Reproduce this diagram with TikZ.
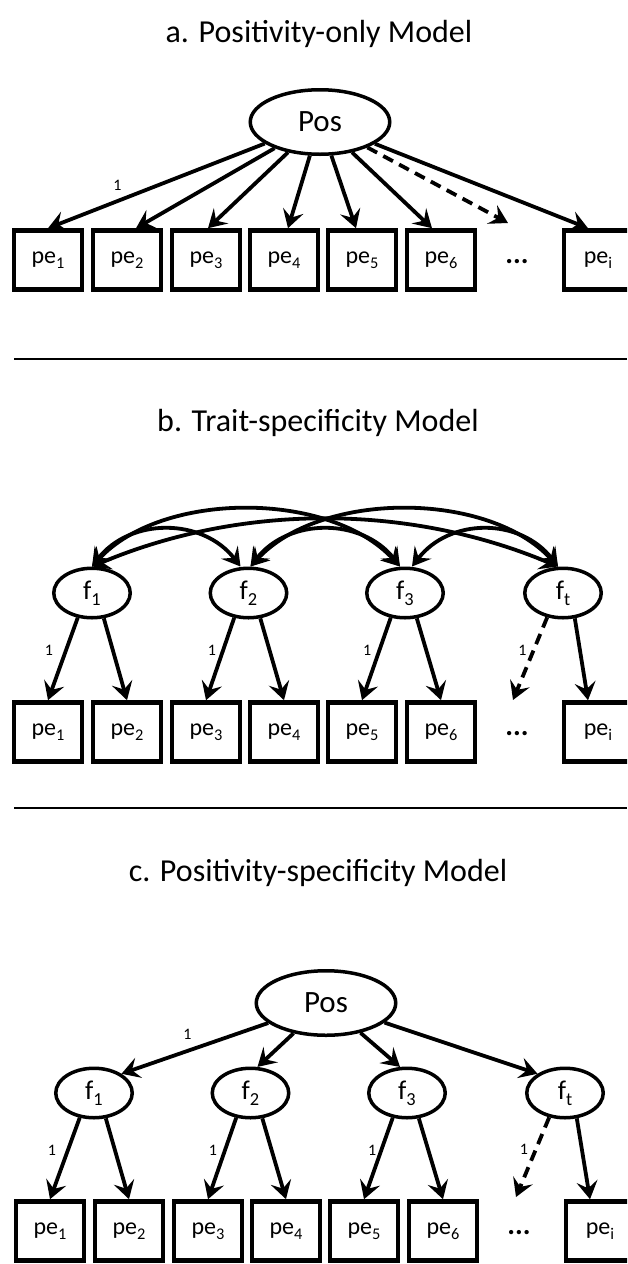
\documentclass[tikz,border=0pt]{standalone}
\usepackage{fontspec}
\setmainfont{Carlito}
\usepackage{graphicx}
\usetikzlibrary{arrows.meta,calc,shapes.geometric}

% lowered, reduced index after a variable name
\newcommand\dn[1]{\raisebox{-0.22em}{\scalebox{0.68}{#1}}}

\begin{document}
\begin{tikzpicture}[x=1pt,y=-1pt,
  obs/.style={draw, line width=4.6pt, minimum width=68pt, minimum height=59pt, inner sep=0pt,
    font=\fontsize{24}{28}\selectfont},
  lat/.style={draw, ellipse, line width=3.5pt, minimum width=76.5pt, minimum height=49.5pt, inner sep=0pt,
    font=\fontsize{27}{32}\selectfont},
  big/.style={lat, minimum width=139.5pt, minimum height=64.5pt, font=\fontsize{31}{36}\selectfont},
  ttl/.style={anchor=base, inner sep=0pt, font=\fontsize{32}{38}\selectfont},
  one/.style={inner sep=0pt, font=\fontsize{16}{19}\selectfont},
  dotsn/.style={anchor=base, inner sep=0pt, font=\bfseries\fontsize{29}{34}\selectfont},
  tip/.style={Stealth[length=18pt,width=21pt,inset=7pt]},
  ld/.style={line width=3.8pt, -{Stealth[length=18pt,width=21pt,inset=7pt]}},
  lddash/.style={ld, dash pattern=on 11pt off 7pt},
  cv/.style={line width=3.8pt, {Stealth[length=18pt,width=21pt,inset=7pt]}-{Stealth[length=18pt,width=21pt,inset=7pt]}},
  sep/.style={line width=2pt}
]
\path[use as bounding box] (0,0) rectangle (627,1264);
\clip (0,0) rectangle (627,1264);

% ---------------- a. Positivity-only model ----------------
\node[ttl] (ta) at (319,42) {a. Positivity-only Model};
\node[big] (posA) at (320,122) {Pos};
\foreach \i/\x in {1/48,2/127,3/206,4/284,5/362,6/441}
  \node[obs] (a\i) at (\x,260) {pe\dn{\i}};
\node[obs] (ai) at (598,260) {pe\dn{i}};
\coordinate (xa) at (517,0);
\node[dotsn] (adots) at (a1.base -| xa) {...};
\coordinate (aend) at (508,223);

\draw[ld] (posA) -- node[one, pos=0.68, yshift=16pt] (la) {1} (a1.north);
\draw[ld] (posA) -- ($(a2.north)+(9,0)$);
\draw[ld] (posA) -- ($(a3.north)+(2,0)$);
\draw[ld] (posA) -- ($(a4.north)+(4,0)$);
\draw[ld] (posA) -- ($(a5.north)+(-6,0)$);
\draw[ld] (posA) -- ($(a6.north)+(-9,0)$);
\draw[lddash] (posA) -- (aend);
\draw[ld] (posA) -- ($(ai.north)+(-10,0)$);

\draw[sep] (14,359) -- (627,359);

% ---------------- b. Trait-specificity model ----------------
\node[ttl] (tb) at (318,431) {b. Trait-specificity Model};
\node[lat] (fb1) at (92,593) {f\dn{1}};
\node[lat] (fb2) at (248.5,593) {f\dn{2}};
\node[lat] (fb3) at (405,593) {f\dn{3}};
\node[lat] (fbt) at (563,593) {f\dn{t}};
\foreach \i/\x in {1/48,2/127,3/206,4/284,5/362,6/441}
  \node[obs] (b\i) at (\x,732) {pe\dn{\i}};
\node[obs] (bi) at (598,732) {pe\dn{i}};
\coordinate (xb) at (517,0);
\node[dotsn] (bdots) at (b1.base -| xb) {...};
\coordinate (bend) at (513,700);

% factor covariances
\draw[cv] (fb1.north) .. controls +(38,-49) and +(-38,-49) .. ($(fb2.north)+(-8,0)$);
\draw[cv] ($(fb2.north)+(2,0)$) .. controls +(38,-49) and +(-38,-49) .. ($(fb3.north)+(-5,0)$);
\draw[cv] ($(fb3.north)+(7,0)$) .. controls +(38,-49) and +(-38,-49) .. ($(fbt.north)+(-5,0)$);
\draw[cv] (fb1.north) .. controls +(70,-76) and +(-70,-76) .. ($(fb3.north)+(-5,0)$);
\draw[cv] ($(fb2.north)+(2,0)$) .. controls +(70,-76) and +(-70,-76) .. ($(fbt.north)+(-5,0)$);
\draw[cv] (fb1.north) .. controls +(150,-63) and +(-150,-63) .. ($(fbt.north)+(-5,0)$);

% loadings
\draw[ld] (fb1.240) -- node[one, pos=0.4, xshift=-17pt] (lb1) {1} (b1.north);
\draw[ld] (fb1.295) -- (b2.north);
\draw[ld] (fb2.240) -- node[one, pos=0.4, xshift=-11pt] (lb2) {1} (b3.north);
\draw[ld] (fb2.295) -- (b4.north);
\draw[ld] (fb3.240) -- node[one, pos=0.4, xshift=-12pt] (lb3) {1} (b5.north);
\draw[ld] (fb3.295) -- (b6.north);
\draw[lddash] (fbt.237) -- node[one, pos=0.4, xshift=-11pt] (lbt) {1} (bend);
\draw[ld] (fbt.295) -- ($(bi.north)+(-10,0)$);

\draw[sep] (14,808) -- (627,808);

% ---------------- c. Positivity-specificity model ----------------
\node[ttl] (tc) at (318,881) {c. Positivity-specificity Model};
\node[big] (posC) at (326,1003) {Pos};
\node[lat] (fc1) at (94,1093) {f\dn{1}};
\node[lat] (fc2) at (250.5,1093) {f\dn{2}};
\node[lat] (fc3) at (407,1093) {f\dn{3}};
\node[lat] (fct) at (565,1093) {f\dn{t}};
\foreach \i/\x in {1/50,2/129,3/208,4/286,5/364,6/443}
  \node[obs] (c\i) at (\x,1231) {pe\dn{\i}};
\node[obs] (ci) at (600,1231) {pe\dn{i}};
\coordinate (xc) at (519,0);
\node[dotsn] (cdots) at (c1.base -| xc) {...};
\coordinate (cend) at (516,1197);

\draw[ld] (posC) -- node[one, pos=0.55, yshift=17pt] (lc) {1} (fc1.35);
\draw[ld] (posC) -- (fc2.75);
\draw[ld] (posC) -- (fc3.105);
\draw[ld] (posC) -- (fct.145);

\draw[ld] (fc1.240) -- node[one, pos=0.4, xshift=-16pt] (lc1) {1} (c1.north);
\draw[ld] (fc1.295) -- (c2.north);
\draw[ld] (fc2.240) -- node[one, pos=0.4, xshift=-12pt] (lc2) {1} (c3.north);
\draw[ld] (fc2.295) -- (c4.north);
\draw[ld] (fc3.240) -- node[one, pos=0.4, xshift=-9pt] (lc3) {1} (c5.north);
\draw[ld] (fc3.295) -- (c6.north);
\draw[lddash] (fct.237) -- node[one, pos=0.4, xshift=-12pt] (lct) {1} (cend);
\draw[ld] (fct.295) -- ($(ci.north)+(-10,0)$);
\end{tikzpicture}
\end{document}
